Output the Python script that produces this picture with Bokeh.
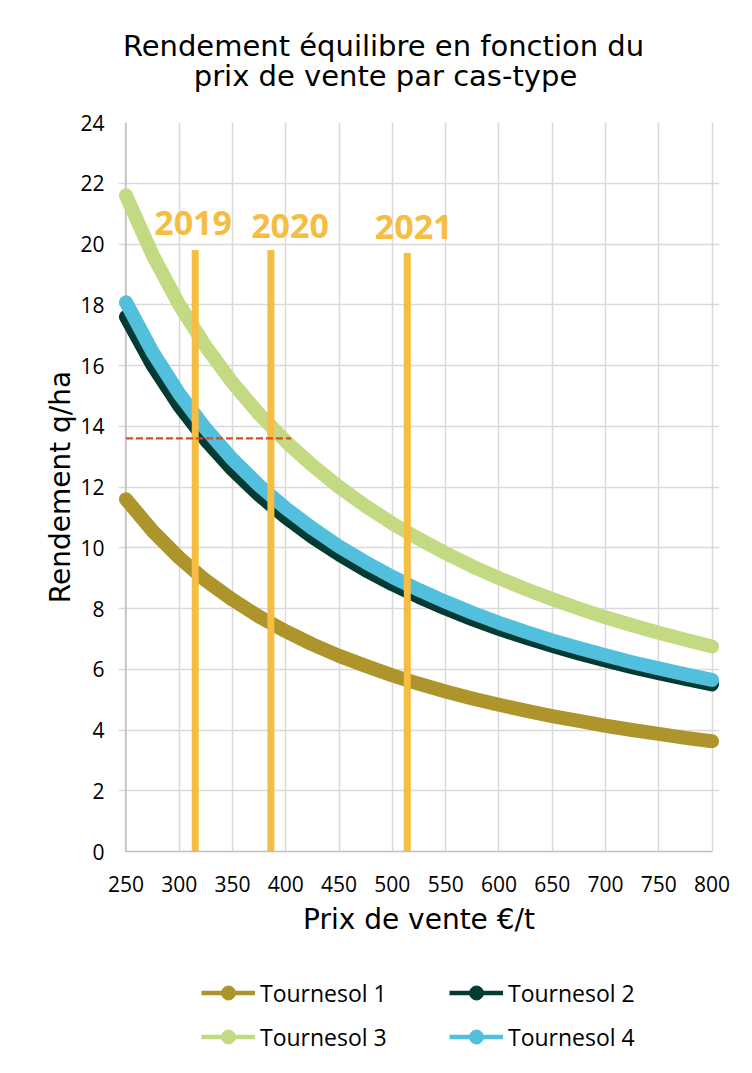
from bokeh.plotting import figure
from bokeh.layouts import column
from bokeh.models import Legend, LegendItem, Range1d, FixedTicker
from bokeh.core.properties import value
from bokeh.embed import file_html
from bokeh.resources import INLINE

# ---- data ----
prix = [250, 275, 300, 325, 350, 375, 400, 425, 450, 475, 500, 525,
        550, 575, 600, 625, 650, 675, 700, 725, 750, 775, 800]
tournesol_1 = [11.6, 10.55, 9.67, 8.92, 8.29, 7.73, 7.25, 6.82, 6.44, 6.11, 5.8, 5.52,
               5.27, 5.04, 4.83, 4.64, 4.46, 4.3, 4.14, 4.0, 3.87, 3.74, 3.63]
tournesol_2 = [17.6, 16.0, 14.67, 13.54, 12.57, 11.73, 11.0, 10.35, 9.78, 9.26, 8.8, 8.38,
               8.0, 7.65, 7.33, 7.04, 6.77, 6.52, 6.29, 6.07, 5.87, 5.68, 5.5]
tournesol_3 = [21.6, 19.64, 18.0, 16.62, 15.43, 14.4, 13.5, 12.71, 12.0, 11.37, 10.8, 10.29,
               9.82, 9.39, 9.0, 8.64, 8.31, 8.0, 7.71, 7.45, 7.2, 6.97, 6.75]
tournesol_4 = [18.08, 16.44, 15.07, 13.91, 12.91, 12.05, 11.3, 10.64, 10.04, 9.52, 9.04, 8.61,
               8.22, 7.86, 7.53, 7.23, 6.95, 6.7, 6.46, 6.23, 6.03, 5.83, 5.65]
series_names = ["Tournesol 1", "Tournesol 2", "Tournesol 3", "Tournesol 4"]

years = ["2019", "2020", "2021"]
year_prix = [315, 386, 514]
year_top = [19.8, 19.8, 19.7]
year_label_x = [313, 404, 520]
year_label_y = [20.7, 20.6, 20.55]

seuil_rendement = 13.6
seuil_prix = [250, 405]

title_lines = ["Rendement équilibre en fonction du", "prix de vente par cas-type"]
x_ticks = [250, 300, 350, 400, 450, 500, 550, 600, 650, 700, 750, 800]
y_ticks = [0, 2, 4, 6, 8, 10, 12, 14, 16, 18, 20, 22, 24]

colors = ["#AE952B", "#023B33", "#C3D982", "#52C0DC"]
yellow = "#F5BD41"
FONT = "Open Sans"
TFONT = "DejaVu Sans"

# ---- title figure (frame aligned with the chart: 601 px wide) ----
tf = figure(width=752, height=110, output_backend="svg", toolbar_location=None,
            x_range=Range1d(0, 601), y_range=Range1d(0, 110),
            x_axis_location=None, y_axis_location=None,
            min_border=0, min_border_left=0, min_border_right=0,
            min_border_top=0, min_border_bottom=0)
tf.grid.visible = False
tf.outline_line_color = None
tf.text(x=[265, 267], y=[65, 35], text=title_lines, text_align="center",
        text_baseline="middle", text_font=value(TFONT), text_font_size="29px",
        text_color="#000000")

# ---- main chart ----
p = figure(width=752, height=845, output_backend="svg", toolbar_location=None,
           x_range=Range1d(243, 807), y_range=Range1d(0, 24),
           min_border_left=118, min_border_right=33, min_border_top=12,
           min_border_bottom=104)
p.outline_line_color = None

for ax in (p.xaxis[0], p.yaxis[0]):
    ax.major_tick_line_color = None
    ax.minor_tick_line_color = None
    ax.major_tick_out = 0
    ax.major_label_text_font = FONT
    ax.major_label_text_font_size = "21px"
    ax.major_label_text_color = "#000000"
    ax.axis_label_text_font = TFONT
    ax.axis_label_text_font_size = "28px"
    ax.axis_label_text_font_style = "normal"
    ax.axis_label_text_color = "#000000"
p.xaxis.axis_line_color = "#BFBFBF"
p.xaxis.axis_line_width = 1.5
p.xaxis.bounds = (250, 800)
p.yaxis.axis_line_color = None
p.xaxis.ticker = FixedTicker(ticks=x_ticks)
p.yaxis.ticker = FixedTicker(ticks=y_ticks)
p.xaxis.axis_label = "Prix de vente €/t"
p.yaxis.axis_label = "Rendement q/ha"
p.xaxis.major_label_standoff = 24
p.xaxis.axis_label_standoff = 8
p.yaxis.major_label_standoff = 14
p.yaxis.axis_label_standoff = 0

p.xgrid.ticker = FixedTicker(ticks=x_ticks)
p.ygrid.ticker = FixedTicker(ticks=y_ticks)
p.xgrid.bounds = (0, 24)
p.ygrid.bounds = (250, 800)
p.grid.grid_line_color = "#D9D9D9"
p.grid.grid_line_width = 1.5

# left axis line at the first price
p.line([x_ticks[0], x_ticks[0]], [y_ticks[0], y_ticks[-1]], line_color="#BFBFBF", line_width=1.5)

# curves
all_series = [tournesol_1, tournesol_2, tournesol_3, tournesol_4]
for ys, c in zip(all_series, colors):
    p.line(prix, ys, line_width=14, line_color=c, line_cap="round", line_join="round")

# year vertical lines
for yx, yt in zip(year_prix, year_top):
    p.line([yx, yx], [0, yt], line_width=7, line_color=yellow)
p.text(x=year_label_x, y=year_label_y, text=years, text_align="center",
       text_baseline="middle", text_font=value(FONT), text_font_style="bold",
       text_font_size="34px", text_color=yellow)

# threshold dashed line
p.line(seuil_prix, [seuil_rendement, seuil_rendement], line_width=2.2,
       line_color="#D04F28", line_dash="7 3")

# ---- legend figure ----
lf = figure(width=752, height=115, output_backend="svg", toolbar_location=None,
            x_range=Range1d(0, 1), y_range=Range1d(0, 1),
            x_axis_location=None, y_axis_location=None,
            min_border=0, min_border_left=0, min_border_right=0,
            min_border_top=0, min_border_bottom=0)
lf.grid.visible = False
lf.outline_line_color = None
items = []
for name, c in zip(series_names, colors):
    lr = lf.line(x=[-5, -4], y=[-5, -4], line_width=4.5, line_color=c)
    cr = lf.scatter(x=[-5], y=[-5], size=15, fill_color=c, line_color=c)
    items.append(LegendItem(label=name, renderers=[lr, cr]))
legend = Legend(items=items, orientation="horizontal", ncols=2,
                glyph_width=54, glyph_height=35, label_height=35, label_width=180,
                label_standoff=5, spacing=9, padding=0, margin=0,
                label_text_font=FONT, label_text_font_size="23px",
                label_text_color="#000000", border_line_color=None,
                background_fill_alpha=0, location=(83, 16))
lf.add_layout(legend, "center")

open("out.html", "w").write(file_html(column(tf, p, lf), INLINE))
